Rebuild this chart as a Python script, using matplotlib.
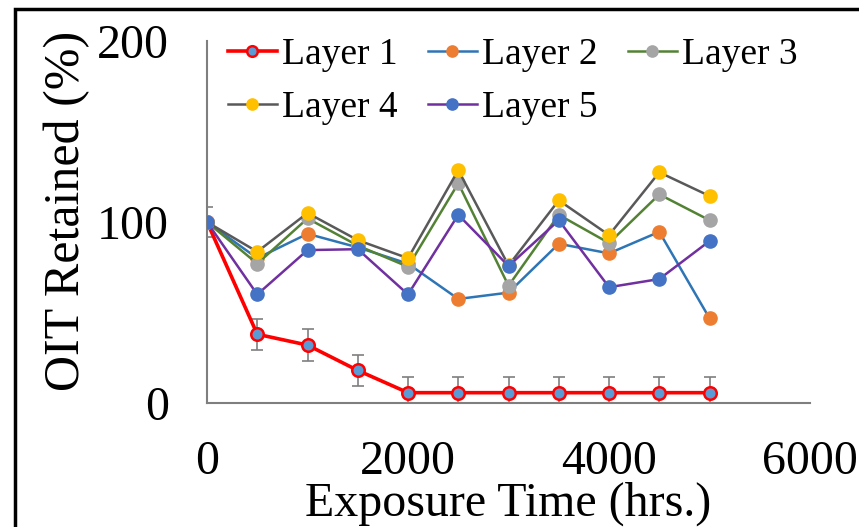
import numpy as np
import matplotlib
matplotlib.use("Agg")
import matplotlib.pyplot as plt
from matplotlib.patches import Rectangle

plt.rcParams['font.family'] = ['Liberation Serif', 'DejaVu Serif']

hours = [0, 500, 1000, 1500, 2000, 2500, 3000, 3500, 4000, 4500, 5000]
layer1 = [100, 38, 32, 18, 5.7, 5.7, 5.7, 5.7, 5.7, 5.7, 5.7]
layer1_err = [8.5, 8.5, 9, 8.5, 8.5, 8.5, 8.5, 8.5, 8.5, 8.5, 8.5]
layer2 = [100, 80, 93.5, 86, 77, 57.5, 61, 88, 82.7, 94.6, 46.8]
layer3 = [100, 77, 102, 87, 75.3, 121.4, 64.8, 104, 88.4, 115.3, 101]
layer4 = [100, 83.6, 105, 90, 80, 128.7, 76, 112, 92.8, 127.5, 114.4]
layer5 = [100, 60, 84.5, 85, 60, 104, 75.7, 101, 64, 68.5, 89.5]

fig = plt.figure(figsize=(8.59, 5.27), dpi=100)
ax = fig.add_axes([0.241, 0.2353, 0.702, 0.6867])

# Excel-like series: (values, line colour, marker colour)
series = [
    (layer2, '#2E75B6', '#ED7D31', 'Layer 2'),
    (layer3, '#548235', '#A5A5A5', 'Layer 3'),
    (layer4, '#595959', '#FFC000', 'Layer 4'),
    (layer5, '#7030A0', '#4472C4', 'Layer 5'),
]

handles = {}
ax.errorbar(hours, layer1, yerr=layer1_err, fmt='none', ecolor='#7F7F7F',
            elinewidth=1.2, capsize=4, capthick=1.2, zorder=2)
h1, = ax.plot(hours, layer1, color='#FF0000', lw=2.6, marker='o', ms=9,
              mfc='#5B9BD5', mec='#FF0000', mew=1.8, zorder=3, label='Layer 1')
handles['Layer 1'] = h1
for i, (vals, lc, mc, name) in enumerate(series):
    h, = ax.plot(hours, vals, color=lc, lw=1.8, marker='o', ms=9.5,
                 mfc=mc, mec=mc, zorder=4 + i, label=name)
    handles[name] = h

ax.set_xlim(0, 6000)
ax.set_ylim(0, 200)
ax.set_xticks([0, 2000, 4000, 6000])
ax.set_yticks([0, 100, 200])
ax.tick_params(axis='both', length=0, labelsize=34.5)
ax.tick_params(axis='x', pad=27)
ax.tick_params(axis='y', pad=27.5)
for s in ['top', 'right']:
    ax.spines[s].set_visible(False)
for s in ['left', 'bottom']:
    ax.spines[s].set_color('#7F7F7F')
    ax.spines[s].set_linewidth(1.5)

ax.set_xlabel('Exposure Time (hrs.)', fontsize=34.5, va='center')
ax.set_ylabel('OIT Retained (%)', fontsize=36, va='center')
ax.xaxis.set_label_coords(0.5, -0.279)
ax.yaxis.set_label_coords(-0.232, 0.53)

order = ['Layer 1', 'Layer 4', 'Layer 2', 'Layer 5', 'Layer 3']
ax.legend([handles[k] for k in order], order, ncol=3, frameon=False,
          fontsize=27, loc='upper left', bbox_to_anchor=(0.035, 1.011),
          handlelength=1.3, handletextpad=0.15, columnspacing=0.8,
          labelspacing=0.51, borderaxespad=0, borderpad=0, markerscale=0.85)

fig.patches.append(Rectangle((15 / 859, -0.1), 1.2, 1 - 9 / 527 + 0.1,
                             transform=fig.transFigure, fill=False,
                             edgecolor='black', lw=2.5))

fig.savefig('out.png', dpi=100)
